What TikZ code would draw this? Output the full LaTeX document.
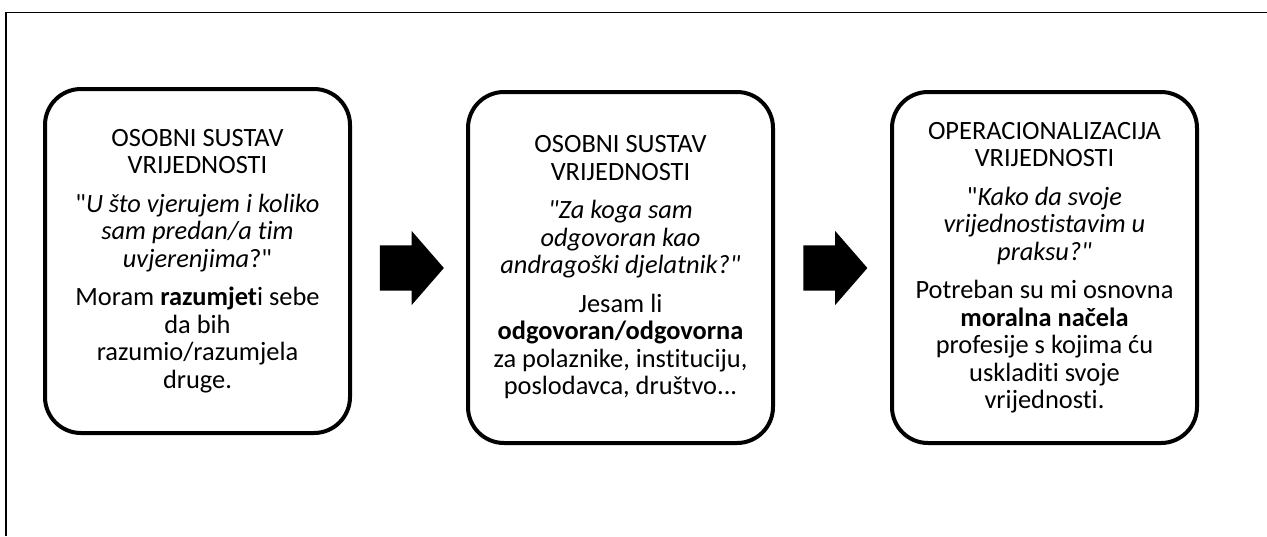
\documentclass[tikz,border=0pt]{standalone}
\usepackage{fontspec}
\setmainfont{Carlito}[Ligatures={TeXOff,CommonOff}]
\usetikzlibrary{shapes.arrows}

\begin{document}
\begin{tikzpicture}[x=1pt, y=-1pt,
    valbox/.style={draw, line width=4pt, rounded corners=36pt, minimum width=305pt,
      align=center, inner sep=0pt, font=\fontsize{26.4}{27.5}\selectfont},
    bigarrow/.style={single arrow, fill=black, inner xsep=0pt, inner ysep=22.5pt,
      minimum height=64pt, single arrow head extend=14.5pt, single arrow tip angle=98}]
    \useasboundingbox (0,0) rectangle (1267,536);
    % frame
    \draw[line width=1.6pt] (1267,12.5) -- (6,12.5) -- (6,536);
    % the three boxes
    \node[valbox, minimum height=344pt] (osobni) at (197.5,261) {OSOBNI SUSTAV\\
      VRIJEDNOSTI\\[11pt]
      "\textit{U što vjerujem i koliko}\\
      \textit{sam predan/a tim}\\
      \textit{uvjerenjima}?"\\[11pt]
      Moram \textbf{razumjet}i sebe\\
      da bih\\
      razumio/razumjela\\
      druge.};
    \node[valbox, minimum height=351pt] (odgovornost) at (620.5,267.5) {OSOBNI SUSTAV\\
      VRIJEDNOSTI\\[11pt]
      \textit{"Za koga sam}\\
      \textit{odgovoran kao}\\
      \textit{andragoški djelatnik?"}\\[11pt]
      Jesam li\\
      \textbf{odgovoran/odgovorna}\\
      za polaznike, instituciju,\\
      poslodavca, društvo...};
    \node[valbox, minimum height=351pt] (praksa) at (1044.5,267.5) {OPERACIONALIZACIJA\\
      VRIJEDNOSTI\\[11pt]
      "\textit{Kako da svoje}\\
      \textit{vrijednostistavim u}\\
      \textit{praksu?"}\\[11pt]
      Potreban su mi osnovna\\
      \textbf{moralna načela}\\
      profesije s kojima ću\\
      uskladiti svoje\\
      vrijednosti.};
    % block arrows
    \node[bigarrow] (strelicaA) at (402,268) {};
    \node[bigarrow] (strelicaB) at (825.5,268) {};
\end{tikzpicture}
\end{document}
